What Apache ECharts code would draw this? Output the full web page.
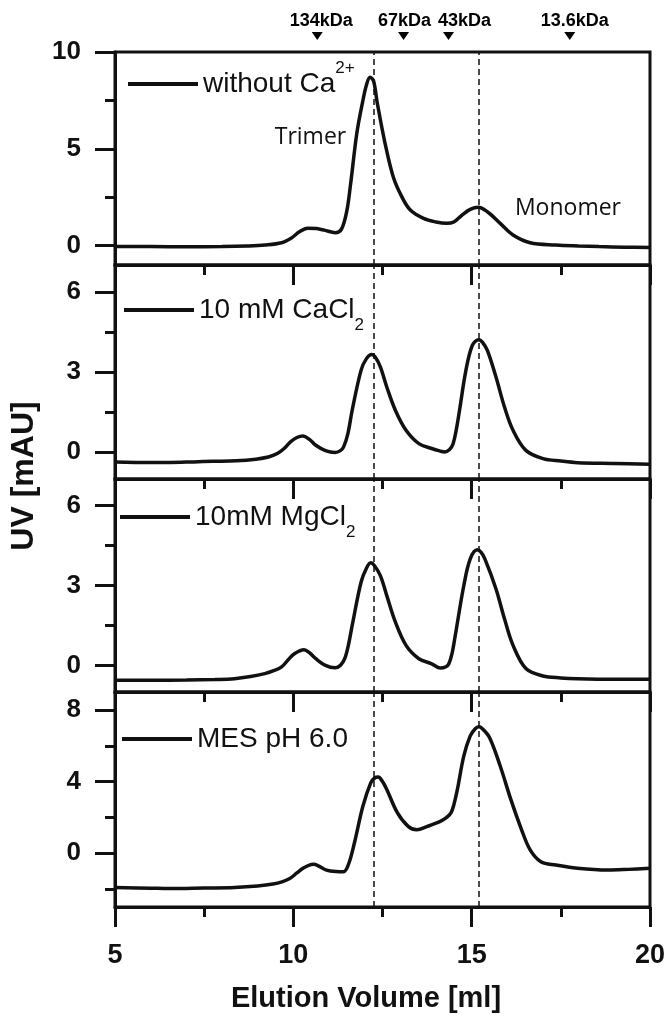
<!DOCTYPE html>
<html>
<head>
<meta charset="utf-8">
<script src="https://cdn.jsdelivr.net/npm/echarts@6/dist/echarts.min.js"></script>
<style>
  html, body { margin: 0; padding: 0; background: #fff; }
  #chart { width: 671px; height: 1020px; }
</style>
</head>
<body>
<div id="chart"></div>
<script>
// elution volume [ml] / UV [mAU]
const volNoCa = [5.0, 6.0, 7.0, 8.0, 8.7, 9.2, 9.67, 9.95, 10.16, 10.4, 10.65, 10.87, 11.18, 11.35, 11.5, 11.6, 11.78, 11.94, 12.05, 12.15, 12.25, 12.35, 12.57, 12.8, 13.04, 13.28, 13.65, 14.0, 14.3, 14.5, 14.73, 14.96, 15.18, 15.44, 15.8, 16.16, 16.64, 17.36, 18.0, 18.57, 19.3, 20.0]
const uvNoCa = [-0.05, -0.05, -0.06, -0.05, -0.02, 0.03, 0.15, 0.4, 0.7, 0.9, 0.88, 0.8, 0.67, 0.85, 1.8, 3.1, 5.8, 7.4, 8.3, 8.7, 8.5, 7.4, 5.3, 3.56, 2.53, 1.84, 1.41, 1.22, 1.15, 1.22, 1.58, 1.87, 1.98, 1.75, 1.15, 0.55, 0.15, 0.03, -0.02, -0.05, -0.08, -0.1]

const volCa = [5.0, 6.0, 6.55, 7.2, 7.75, 8.4, 8.95, 9.3, 9.55, 9.75, 9.92, 10.1, 10.27, 10.45, 10.63, 10.9, 11.17, 11.32, 11.41, 11.53, 11.65, 11.9, 12.05, 12.2, 12.3, 12.44, 12.62, 12.86, 13.16, 13.52, 13.88, 14.1, 14.24, 14.38, 14.48, 14.57, 14.66, 14.84, 15.02, 15.2, 15.3, 15.44, 15.68, 15.92, 16.16, 16.52, 17.0, 17.5, 17.97, 19.0, 20.0]
const uvCa = [-0.36, -0.38, -0.38, -0.36, -0.34, -0.32, -0.26, -0.18, -0.05, 0.15, 0.39, 0.55, 0.61, 0.48, 0.26, 0.06, -0.01, 0.06, 0.2, 0.7, 1.57, 3.07, 3.5, 3.65, 3.55, 3.19, 2.44, 1.57, 0.82, 0.32, 0.14, 0.05, 0.01, 0.1, 0.32, 0.85, 1.57, 3.07, 4.0, 4.21, 4.12, 3.81, 2.82, 1.69, 0.82, 0.07, -0.24, -0.33, -0.39, -0.42, -0.45]

const volMg = [5.0, 6.0, 7.0, 7.8, 8.35, 8.8, 9.2, 9.45, 9.67, 9.85, 10.03, 10.3, 10.45, 10.63, 10.9, 11.17, 11.32, 11.44, 11.55, 11.65, 11.9, 12.05, 12.17, 12.27, 12.44, 12.62, 12.86, 13.16, 13.52, 13.88, 14.12, 14.28, 14.36, 14.45, 14.54, 14.78, 14.96, 15.16, 15.26, 15.37, 15.68, 15.92, 16.16, 16.52, 17.0, 17.5, 17.97, 19.0, 20.0]
const uvMg = [-0.56, -0.56, -0.55, -0.53, -0.5, -0.42, -0.31, -0.2, -0.06, 0.2, 0.44, 0.59, 0.48, 0.25, 0.0, -0.09, 0.0, 0.25, 0.8, 1.5, 3.13, 3.65, 3.85, 3.75, 3.37, 2.62, 1.63, 0.75, 0.25, 0.06, -0.1, -0.05, 0.06, 0.45, 1.12, 3.0, 4.0, 4.34, 4.25, 4.0, 2.88, 1.75, 0.75, -0.12, -0.4, -0.47, -0.5, -0.52, -0.52]

const volMes = [5.0, 6.0, 6.55, 7.5, 8.35, 9.0, 9.43, 9.7, 9.9, 10.1, 10.27, 10.45, 10.57, 10.7, 10.93, 11.2, 11.41, 11.55, 11.71, 11.95, 12.17, 12.28, 12.38, 12.5, 12.62, 12.92, 13.22, 13.46, 13.76, 14.12, 14.3, 14.42, 14.5, 14.6, 14.78, 14.96, 15.1, 15.2, 15.3, 15.5, 15.8, 16.1, 16.4, 16.64, 16.94, 17.36, 17.97, 18.8, 19.4, 20.0]
const uvMes = [-1.91, -1.95, -1.97, -1.94, -1.91, -1.83, -1.72, -1.58, -1.41, -1.1, -0.84, -0.66, -0.62, -0.7, -0.94, -1.02, -1.03, -0.6, 0.56, 2.62, 3.93, 4.2, 4.25, 4.0, 3.56, 2.25, 1.5, 1.31, 1.5, 1.78, 2.0, 2.25, 2.7, 3.56, 5.43, 6.55, 6.95, 7.06, 6.95, 6.46, 4.87, 2.99, 1.31, 0.19, -0.47, -0.66, -0.84, -0.94, -0.9, -0.84]

const panelNames = ['without Ca2+', '10 mM CaCl2', '10mM MgCl2', 'MES pH 6.0']
const panelVols = [volNoCa, volCa, volMg, volMes]
const panelUvs = [uvNoCa, uvCa, uvMg, uvMes]

// y ranges and tick values per panel
const yMin = [-1, -1, -1, -3]
const yMax = [10, 7, 7, 9]
const majorTicks = [[0, 5, 10], [0, 3, 6], [0, 3, 6], [0, 4, 8]]
const minorTicks = [[2.5, 7.5], [1.5, 4.5], [1.5, 4.5], [-2, 2, 6]]

// dashed lines through trimer / monomer peaks
const peakLines = [12.25, 15.2]

// calibration markers on top
const markerNames = ['134kDa', '67kDa', '43kDa', '13.6kDa']
const markerVols = [10.67, 13.09, 14.35, 17.75]

const noteNames = ['Trimer', 'Monomer']
const noteVols = [10.48, 17.7]
const noteUvs = [5.6, 1.94]

const ink = '#111'
const sans = 'Liberation Sans, Arial, sans-serif'

const gridTops = [52, 265, 479, 692]
const gridHeights = [213, 214, 213, 215]
const legendCenters = [84, 320, 527, 749]
const legendLefts = [128, 124, 120, 122]
const legendRich = {
  'without Ca2+': '{t|without Ca}{sup|2+}',
  '10 mM CaCl2': '{t|10 mM CaCl}{sub|2}',
  '10mM MgCl2': '{t|10mM MgCl}{sub|2}',
  'MES pH 6.0': '{t|MES pH 6.0}'
}
const markerLabelDx = { '134kDa': 4, '67kDa': 1, '43kDa': 16, '13.6kDa': 5 }

const chart = echarts.init(document.getElementById('chart'))

let grids = []
let xAxes = []
let yAxes = []
let yMinorAxes = []
let series = []
let legends = []

for (let i = 0; i < 4; i++) {
  grids.push({
    left: 115,
    right: 21,
    top: gridTops[i],
    height: gridHeights[i],
    show: true,
    borderColor: ink,
    borderWidth: 3
  })
  xAxes.push({
    gridIndex: i,
    type: 'value',
    min: 5,
    max: 20,
    interval: 5,
    axisLine: { show: true, onZero: false, lineStyle: { color: ink, width: 3 } },
    axisTick: { show: true, length: 20, lineStyle: { color: ink, width: 3 } },
    minorTick: { show: true, splitNumber: 2, length: 10, lineStyle: { color: ink, width: 3 } },
    axisLabel: {
      show: i === 3,
      color: ink,
      fontFamily: sans,
      fontSize: 27,
      fontWeight: 'bold',
      margin: 35
    },
    splitLine: { show: false },
    minorSplitLine: { show: false },
    name: i === 3 ? 'Elution Volume [ml]' : '',
    nameLocation: 'middle',
    nameGap: 77,
    nameTextStyle: {
      color: ink,
      fontFamily: sans,
      fontSize: 29,
      fontWeight: 'bold',
      padding: [0, 33, 0, 0]
    }
  })
  yAxes.push({
    gridIndex: i,
    type: 'value',
    position: 'left',
    min: yMin[i],
    max: yMax[i],
    axisLine: { show: true, onZero: false, lineStyle: { color: ink, width: 3 } },
    axisTick: { show: true, length: 20, customValues: majorTicks[i], lineStyle: { color: ink, width: 3 } },
    axisLabel: {
      customValues: majorTicks[i],
      color: ink,
      fontFamily: sans,
      fontSize: 26,
      fontWeight: 'bold',
      margin: 34
    },
    splitLine: { show: false }
  })
  yMinorAxes.push({
    gridIndex: i,
    type: 'value',
    position: 'left',
    min: yMin[i],
    max: yMax[i],
    axisLine: { show: false, onZero: false },
    axisTick: { show: true, length: 10, customValues: minorTicks[i], lineStyle: { color: ink, width: 3 } },
    axisLabel: { show: false },
    splitLine: { show: false }
  })

  let s = {
    name: panelNames[i],
    type: 'line',
    xAxisIndex: i,
    yAxisIndex: i,
    data: panelVols[i].map((v, k) => [v, panelUvs[i][k]]),
    showSymbol: false,
    smooth: 0.35,
    color: ink,
    lineStyle: { color: ink, width: 3.5 },
    markLine: {
      silent: true,
      symbol: ['none', 'none'],
      label: { show: false },
      lineStyle: { color: ink, type: [6, 4], width: 1.5 },
      data: peakLines.map(v => ({ xAxis: v }))
    }
  }
  if (i === 0) {
    s.markPoint = {
      symbol: 'circle',
      symbolSize: 1,
      itemStyle: { color: 'rgba(0,0,0,0)' },
      label: {
        show: true,
        position: 'inside',
        formatter: '{b}',
        color: ink,
        fontFamily: 'Open Sans, sans-serif',
        fontSize: 23
      },
      data: noteNames.map((n, k) => ({ name: n, coord: [noteVols[k], noteUvs[k]] }))
    }
  }
  series.push(s)

  legends.push({
    data: [panelNames[i]],
    left: legendLefts[i],
    top: legendCenters[i] - 24,
    padding: 0,
    icon: 'rect',
    itemWidth: 70,
    itemHeight: 4,
    selectedMode: false,
    formatter: function(name) {
      return legendRich[name]
    },
    textStyle: {
      color: ink,
      fontFamily: sans,
      fontSize: 28,
      rich: {
        t: { fontSize: 28, lineHeight: 48, fontFamily: sans, color: ink },
        sup: { fontSize: 17, lineHeight: 17, verticalAlign: 'top', fontFamily: sans, color: ink },
        sub: { fontSize: 17, lineHeight: 17, verticalAlign: 'bottom', fontFamily: sans, color: ink }
      }
    }
  })
}

// strip for the kDa markers above the first panel
grids.push({ left: 115, right: 21, top: 30, height: 12, show: false })
xAxes.push({ gridIndex: 4, type: 'value', min: 5, max: 20, show: false })
let yAll = yAxes.concat(yMinorAxes)
yAll.push({ gridIndex: 4, type: 'value', min: -1, max: 1, show: false })

series.push({
  type: 'scatter',
  xAxisIndex: 4,
  yAxisIndex: 8,
  symbol: 'triangle',
  symbolRotate: 180,
  symbolSize: [11, 8],
  itemStyle: { color: '#000', opacity: 1 },
  label: {
    show: true,
    position: 'inside',
    formatter: '{b}',
    color: '#000',
    opacity: 1,
    textBorderWidth: 0,
    fontFamily: sans,
    fontSize: 18,
    fontWeight: 'bold'
  },
  data: markerVols.map((v, k) => ({
    name: markerNames[k],
    value: [v, 0],
    label: { offset: [markerLabelDx[markerNames[k]], -15] }
  }))
})

let option = {
  backgroundColor: '#fff',
  animation: false,
  grid: grids,
  xAxis: xAxes,
  yAxis: yAll,
  legend: legends,
  series: series,
  graphic: [
    {
      type: 'text',
      x: 24,
      y: 476,
      rotation: Math.PI / 2,
      style: {
        text: 'UV [mAU]',
        fill: ink,
        font: 'bold 32px ' + sans,
        textAlign: 'center',
        textVerticalAlign: 'middle'
      }
    }
  ]
}
chart.setOption(option)
</script>
</body>
</html>
